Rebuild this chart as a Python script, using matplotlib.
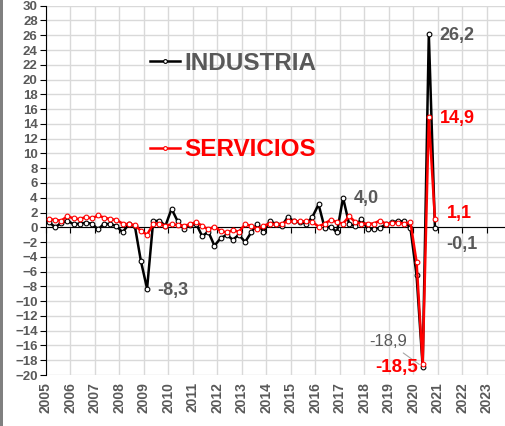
import matplotlib
matplotlib.use("Agg")
import matplotlib.pyplot as plt
from matplotlib.patches import Rectangle

plt.rcParams['font.family'] = ['Liberation Sans Narrow', 'Liberation Sans', 'DejaVu Sans']
plt.rcParams['font.weight'] = 'bold'

# ---- data (quarterly, 2005Q1 .. 2020Q4) ----
years = list(range(2005, 2024))
start_year = 2005
industria = [
    0.7, 0.0, 0.6, 0.9,      # 2005
    0.4, 0.5, 0.6, 0.5,      # 2006
    -0.3, 0.5, 0.4, 0.2,     # 2007
    -0.7, 0.4, 0.2, -4.6,    # 2008
    -8.3, 0.8, 0.9, 0.2,     # 2009
    2.5, 0.8, -0.2, 0.3,     # 2010
    0.5, -1.2, -0.6, -2.5,   # 2011
    -1.5, -1.0, -1.7, -1.0,  # 2012
    -2.0, -0.7, 0.5, -0.6,   # 2013
    0.8, 0.5, 0.2, 1.4,      # 2014
    0.8, 0.7, 0.5, 1.4,      # 2015
    3.1, -0.1, 0.1, -0.7,    # 2016
    4.0, 0.4, 0.2, 1.1,      # 2017
    -0.2, -0.2, -0.1, 0.4,   # 2018
    0.7, 0.8, 0.8, -0.1,     # 2019
    -6.5, -18.9, 26.2, -0.1, # 2020
]
servicios = [
    1.1, 1.0, 0.9, 1.5,      # 2005
    1.2, 1.1, 1.4, 1.2,      # 2006
    1.6, 1.3, 1.1, 1.0,      # 2007
    0.5, 0.4, 0.3, -0.5,     # 2008
    -1.0, 0.4, 0.5, 0.2,     # 2009
    0.4, 0.3, 0.2, 0.4,      # 2010
    0.7, 0.2, -0.3, 0.1,     # 2011
    -0.5, -0.7, -0.4, -0.6,  # 2012
    0.4, 0.2, -0.2, 0.2,     # 2013
    0.5, 0.4, 0.5, 0.8,      # 2014
    0.8, 0.8, 0.8, 0.7,      # 2015
    0.1, 0.5, 1.0, 0.7,      # 2016
    0.5, 1.5, 0.7, 0.5,      # 2017
    0.5, 0.5, 0.9, 0.5,      # 2018
    0.6, 0.6, 0.5, 0.7,      # 2019
    -4.7, -18.5, 14.9, 1.1,  # 2020
]
series_names = ["INDUSTRIA", "SERVICIOS"]

x = [start_year + (i + 0.5) / 4 for i in range(len(industria))]

GRAY = '#595959'
W, H = 506, 426
fig = plt.figure(figsize=(W / 100, H / 100), dpi=100)
ax = fig.add_axes([46 / W, 1 - 375 / H, (W - 46) / W, (375 - 5.7) / H])
ax.set_xlim(2005, 2005 + 460 / 24.5)
ax.set_ylim(-20, 30)
ax.set_yticks(range(-20, 31, 2))
ax.set_xticks(years)
ax.grid(True, color='#d9d9d9', lw=1)
ax.set_axisbelow(True)
for s in ['top', 'right']:
    ax.spines[s].set_visible(False)
ax.spines['left'].set_color('black')
ax.spines['bottom'].set_position(('data', 0))
ax.spines['bottom'].set_color('black')
ax.tick_params(axis='x', direction='out', length=4, color='black', labelbottom=False)
ax.tick_params(axis='y', direction='out', length=4, color='black', labelsize=9.5,
               labelcolor=GRAY, pad=2)

sec = ax.secondary_xaxis('bottom')
sec.set_xticks(years)
sec.set_xticklabels([str(y) for y in years], rotation=90, fontsize=10,
                    fontweight='bold', color=GRAY)
sec.tick_params(length=0, pad=5)
sec.spines['bottom'].set_visible(False)

l1, = ax.plot(x, industria, color='black', lw=1.8, marker='o', ms=3.4,
              mfc='white', mec='black', mew=0.8, label=series_names[0], zorder=3)
l2, = ax.plot(x, servicios, color='#ff0000', lw=1.8, marker='o', ms=3.4,
              mfc='white', mec='#ff0000', mew=0.8, label=series_names[1], zorder=4)

leg = ax.legend(handles=[l1, l2], loc='upper left',
                bbox_to_anchor=(150 / W, 1 - 52 / H), bbox_transform=fig.transFigure,
                frameon=False, fontsize=17.5, handlelength=1.25, handletextpad=0.15,
                labelspacing=2.6, borderpad=0, borderaxespad=0, markerscale=0.8)
for t, c in zip(leg.get_texts(), [GRAY, '#ff0000']):
    t.set_color(c)
    t.set_fontweight('bold')

def lab(i, vals, txt, dx, dy, color, ha='left', size=13, weight='bold', arrow=False):
    kw = {}
    if arrow:
        kw['arrowprops'] = dict(arrowstyle='-', color='#a6a6a6', lw=0.8,
                                shrinkA=1, shrinkB=3)
    ax.annotate(txt, xy=(x[i], vals[i]), xytext=(dx, dy), textcoords='offset pixels',
                ha=ha, va='center', color=color, fontsize=size, fontweight=weight,
                zorder=6, **kw)

lab(16, industria, '-8,3', 10, -2, GRAY)
lab(48, industria, '4,0', 11, -1, GRAY)
lab(62, industria, '26,2', 11, -2, GRAY)
lab(62, servicios, '14,9', 11, -1, '#ff0000')
lab(63, servicios, '1,1', 12, 6, '#ff0000')
lab(63, industria, '-0,1', 11, -16, GRAY)
lab(61, industria, '-18,9', -16, 25, GRAY, ha='right', size=12, weight='normal', arrow=True)
lab(61, servicios, '-18,5', -5, -4, '#ff0000', ha='right', size=13.5)

fig.add_artist(Rectangle((0, 0), 3 / W, 1, transform=fig.transFigure,
                         color='#808080', lw=0))

fig.savefig('out.png', dpi=100)
